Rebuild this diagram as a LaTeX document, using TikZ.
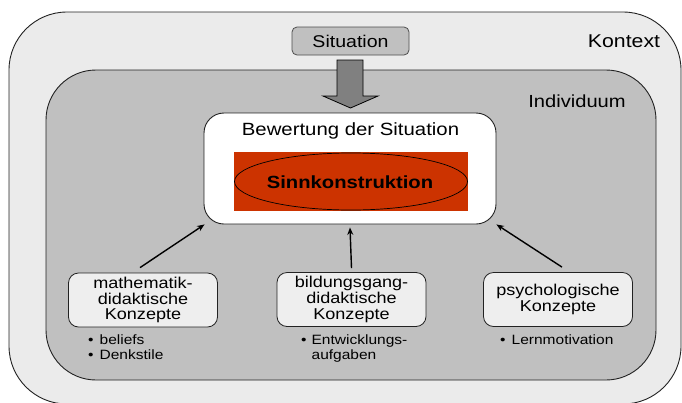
\documentclass[tikz,border=0pt]{standalone}
\usepackage{fontspec}
\setmainfont{Liberation Sans}[FakeStretch=1.15]
\usetikzlibrary{arrows.meta,calc,shapes.geometric}
\definecolor{kontextgray}{HTML}{EBEBEB}
\definecolor{indivgray}{HTML}{C0C0C0}
\definecolor{sitgray}{HTML}{C0C0C0}
\definecolor{arrowgray}{HTML}{808080}
\definecolor{conceptgray}{HTML}{EEEEEE}
\definecolor{sinnred}{HTML}{CC3300}
\definecolor{edge}{HTML}{222222}
\tikzset{
  region/.style={draw=edge, line width=0.9pt, inner sep=0pt},
  concept/.style={draw=edge, line width=0.8pt, fill=conceptgray, rounded corners=10pt,
    minimum width=149pt, minimum height=54pt, align=center, inner sep=0pt,
    font=\fontsize{15.7}{15.8}\selectfont},
  link/.style={-{Stealth[length=7.5pt,width=6pt]}, line width=1.4pt, draw=black},
  bullets/.style={anchor=base west, inner sep=0pt, font=\fontsize{13.5}{15}\selectfont},
  label/.style={inner sep=0pt, font=\fontsize{17}{20}\selectfont},
}
\begin{document}
\begin{tikzpicture}[x=1pt,y=-1pt]
\useasboundingbox (0,0) rectangle (682,402);
% Kontext
\node[region, fill=kontextgray, rounded corners=58pt, minimum width=672pt, minimum height=392pt] (kontext) at (345,208) {};
\node[label, font=\fontsize{18.5}{20}\selectfont] (kontextlbl) at (624,41.5) {Kontext};
% Individuum
\node[region, fill=indivgray, rounded corners=50pt, minimum width=610pt, minimum height=310pt] (indiv) at (351,225) {};
\node[label, font=\fontsize{17.5}{20}\selectfont] (indivlbl) at (577,101) {Individuum};
% Situation
\node[draw=edge!80, line width=0.8pt, fill=sitgray, rounded corners=5pt, minimum width=117pt, minimum height=28pt, inner sep=0pt, font=\fontsize{17}{20}\selectfont] (sit) at (350.5,41) {Situation};
% big arrow
\draw[draw=black, line width=0.8pt, fill=arrowgray]
  (337,60) -- (363,60) -- (363,96) -- (378,96) -- (350.5,108) -- (323,96) -- (337,96) -- cycle;
% Bewertung
\node[draw=edge, line width=0.9pt, fill=white, rounded corners=20pt, minimum width=292pt, minimum height=111pt, inner sep=0pt] (bew) at (350,168.5) {};
\node[label, font=\fontsize{17.7}{20}\selectfont] (bewlbl) at (350.5,131) {Bewertung der Situation};
\node[fill=sinnred, minimum width=234pt, minimum height=59pt, inner sep=0pt] (red) at (351,181.5) {};
\node[draw=black, line width=0.7pt, ellipse, minimum width=233pt, minimum height=57pt, inner sep=0pt] (sinn) at (351,181.5) {};
\node[inner sep=0pt, font=\bfseries\fontsize{17.6}{20}\selectfont] (sinnlbl) at (350,182) {Sinnkonstruktion};
% concepts
\node[concept] (math) at (143,300) {mathematik-\\didaktische\\Konzepte};
\node[concept] (bild) at (351.5,299.5) {bildungsgang-\\didaktische\\Konzepte};
\node[concept] (psy) at (558,299.5) {psychologische\\Konzepte};
% arrows
\draw[link] ([xshift=-3pt,yshift=5pt]math.north) -- ([xshift=1pt,yshift=0pt]bew.south west);
\draw[link] ([yshift=4pt]bild.north) -- ([yshift=-3pt]bew.south);
\draw[link] ([xshift=4pt,yshift=5pt]psy.north) -- (bew.south east);
% bullet lists
\node[bullets] (mathlist) at (88,344) {\begin{tabular}[t]{@{}l@{\hspace{6pt}}l@{}}\textbullet & beliefs\\ \textbullet & Denkstile\end{tabular}};
\node[bullets] (bildlist) at (301,344) {\begin{tabular}[t]{@{}l@{\hspace{5pt}}l@{}}\textbullet & Entwicklungs-\\ & aufgaben\end{tabular}};
\node[bullets] (psylist) at (500,344) {\begin{tabular}[t]{@{}l@{\hspace{6pt}}l@{}}\textbullet & Lernmotivation\end{tabular}};
\end{tikzpicture}
\end{document}
